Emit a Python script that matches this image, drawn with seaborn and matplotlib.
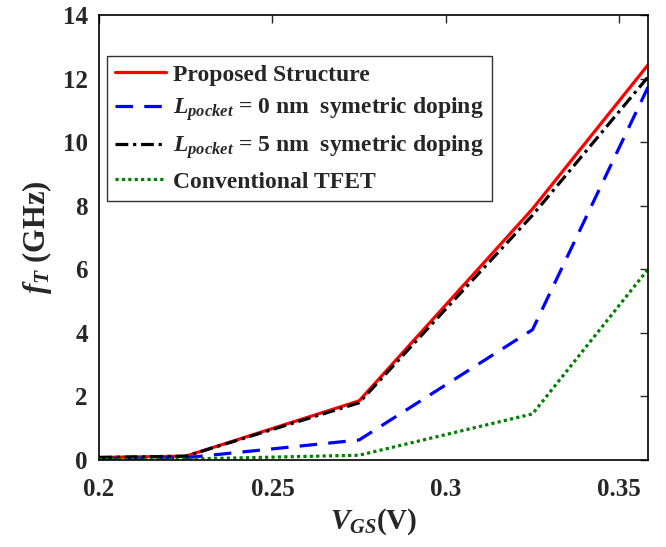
import matplotlib
matplotlib.use("Agg")
import matplotlib.pyplot as plt
import seaborn as sns
import pandas as pd

vgs = [0.2, 0.225, 0.275, 0.325, 0.3583]
proposed = [0.08, 0.12, 1.86, 7.9, 12.43]
lp0 = [0.05, 0.07, 0.63, 4.1, 11.73]
lp5 = [0.08, 0.12, 1.80, 7.7, 12.05]
conventional = [0.02, 0.03, 0.15, 1.45, 6.0]
labels = ["Proposed Structure",
          r"$L_{pocket}$ = 0 nm  symetric doping",
          r"$L_{pocket}$ = 5 nm  symetric doping",
          "Conventional TFET"]
xticks = [0.2, 0.25, 0.3, 0.35]
xticklabels = ["0.2", "0.25", "0.3", "0.35"]
yticks = [0, 2, 4, 6, 8, 10, 12, 14]

sns.set_style("white")
plt.rcParams["font.family"] = ["Liberation Serif", "DejaVu Serif"]
plt.rcParams["font.weight"] = "bold"
plt.rcParams["mathtext.fontset"] = "custom"
plt.rcParams["mathtext.rm"] = "Liberation Serif:bold"
plt.rcParams["mathtext.it"] = "Liberation Serif:bold:italic"
plt.rcParams["mathtext.bf"] = "Liberation Serif:bold"

fig = plt.figure(figsize=(6.66, 5.47), dpi=100)
ax = fig.add_axes([99/666, 1-460/547, (648-99)/666, (460-15)/547])

series = [proposed, lp0, lp5, conventional]
colors = ["#ff0000", "#0000ff", "#000000", "#008000"]
styles = ["-", (0, (5.5, 3.5)), (0, (4, 1.5, 1, 1.5)), (0, (1, 1))]
for vals, lab, c, ls in zip(series, labels, colors, styles):
    df = pd.DataFrame({"x": vgs, "y": vals})
    sns.lineplot(data=df, x="x", y="y", ax=ax, color=c, linestyle=ls,
                 linewidth=2.3, label=lab)

ax.set_xlim(0.2, 0.3583)
ax.set_ylim(0, 14)
ax.set_xticks(xticks)
ax.set_xticklabels(xticklabels)
ax.set_yticks(yticks)
ax.tick_params(direction="in", length=6, width=1, top=True, right=True,
               labelsize=18)
ax.tick_params(axis="x", pad=13)
ax.tick_params(axis="y", pad=8)
for lab in ax.get_xticklabels() + ax.get_yticklabels():
    lab.set_fontweight("bold")
for sp in ax.spines.values():
    sp.set_linewidth(1.2)
    sp.set_color("black")

ax.set_xlabel(r"$V_{GS}$(V)", fontsize=21, fontweight="bold", labelpad=4)
ax.set_ylabel(r"$f_T$ (GHz)", fontsize=22, fontweight="bold", labelpad=6)

leg = ax.legend(loc="upper left", bbox_to_anchor=(0.0146, 0.908),
                borderaxespad=0, fontsize=17,
                frameon=True, fancybox=False, edgecolor="black",
                handlelength=2.15, handletextpad=0.3, borderpad=0.35,
                labelspacing=0.42)
leg.get_frame().set_linewidth(1.0)
for t in leg.get_texts():
    t.set_fontweight("bold")

fig.savefig("out.png", dpi=100)
